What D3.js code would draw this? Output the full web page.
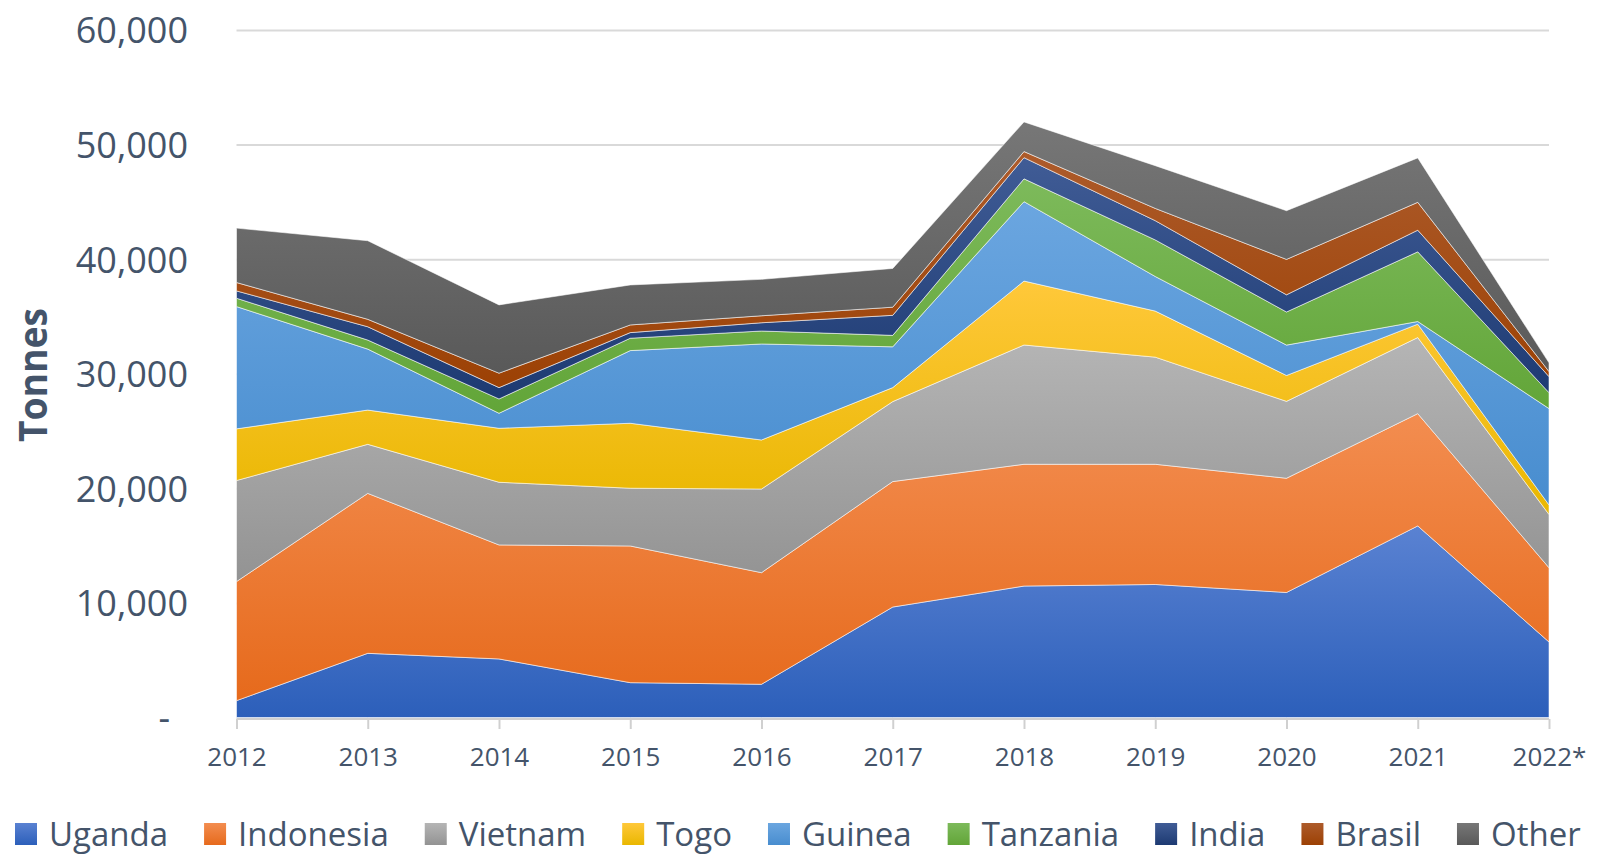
<!DOCTYPE html>
<html lang="en">
<head>
    <meta charset="UTF-8">
    <title>Tonnes by origin</title>
    <script src="https://d3js.org/d3.v7.min.js"></script>
    <style>
        body { margin: 0; background: #fff; }
        text { font-family: "Open Sans", sans-serif; fill: #44546a; }
        .grid line { stroke: #d9d9d9; stroke-width: 2px; }
        .grid .domain { display: none; }
        .area { stroke: rgba(255,255,255,0.55); stroke-width: 1px; }
    </style>
</head>
<body>
<script>

    // Data (tonnes)
    var years = ["2012", "2013", "2014", "2015", "2016", "2017", "2018", "2019", "2020", "2021", "2022*"];
    var uganda    = [1470, 5600, 5110, 3040, 2900, 9640, 11470, 11610, 10910, 16720, 6590];
    var indonesia = [10390, 13960, 9950, 11930, 9740, 10950, 10630, 10490, 9970, 9800, 6480];
    var vietnam   = [8820, 4280, 5470, 5040, 7300, 6980, 10410, 9350, 6710, 6640, 4650];
    var togo      = [4510, 2990, 4710, 5670, 4280, 1220, 5580, 4020, 2260, 1170, 830];
    var guinea    = [10670, 5320, 1310, 6340, 8380, 3560, 6930, 3020, 2650, 230, 8410];
    var tanzania  = [730, 790, 1250, 1080, 1130, 1000, 1990, 3190, 2890, 6080, 1390];
    var india     = [640, 1160, 990, 490, 720, 1750, 1850, 1680, 1500, 1890, 1400];
    var brasil    = [730, 650, 1260, 670, 610, 710, 530, 1070, 3090, 2430, 440];
    var other     = [4750, 6860, 5960, 3490, 3180, 3380, 2590, 3730, 4250, 3880, 760];

    var seriesNames = ["Uganda", "Indonesia", "Vietnam", "Togo", "Guinea", "Tanzania", "India", "Brasil", "Other"];
    var seriesValues = [uganda, indonesia, vietnam, togo, guinea, tanzania, india, brasil, other];
    var yTicks = [0, 10000, 20000, 30000, 40000, 50000, 60000];

    // gradient colours, top -> bottom
    var colors = [
        ["#5a82d2", "#2c5fba"],
        ["#f38d50", "#e66a1c"],
        ["#b5b5b5", "#939393"],
        ["#ffc83a", "#e9b700"],
        ["#6ba6e0", "#488dcf"],
        ["#7dba5b", "#62a538"],
        ["#405c96", "#1d3a72"],
        ["#ad5b2b", "#9c4104"],
        ["#777777", "#595959"]
    ];

    var W = 1600, H = 857;
    var plot = {left: 236.5, right: 1549, top: 30, bottom: 717.5};

    // build table for the stack
    var table = years.map(function(yr, i) {
        var row = {year: yr};
        seriesNames.forEach(function(n, k) { row[n] = seriesValues[k][i]; });
        return row;
    });

    var x = d3.scalePoint().domain(years).range([plot.left, plot.right]);
    var y = d3.scaleLinear().domain([0, 60000]).range([plot.bottom, plot.top]);

    var svg = d3.select("body").append("svg")
        .attr("width", W)
        .attr("height", H);

    // gradients
    var defs = svg.append("defs");
    seriesNames.forEach(function(n, k) {
        var g = defs.append("linearGradient")
            .attr("id", "grad" + k)
            .attr("x1", 0).attr("y1", 0).attr("x2", 0).attr("y2", 1);
        g.append("stop").attr("offset", "0%").attr("stop-color", colors[k][0]);
        g.append("stop").attr("offset", "100%").attr("stop-color", colors[k][1]);
    });

    // gridlines
    svg.append("g")
        .attr("class", "grid")
        .attr("transform", "translate(" + plot.left + ",0)")
        .call(d3.axisLeft(y).tickValues(yTicks.filter(function(d) { return d > 0; }))
            .tickSize(-(plot.right - plot.left)).tickFormat(""));

    // stacked areas
    var stack = d3.stack().keys(seriesNames);
    var layers = stack(table);

    var area = d3.area()
        .x(function(d) { return x(d.data.year); })
        .y0(function(d) { return y(d[0]); })
        .y1(function(d) { return y(d[1]); });

    svg.selectAll(".area")
        .data(layers)
        .enter().append("path")
        .attr("class", "area")
        .attr("fill", function(d, i) { return "url(#grad" + i + ")"; })
        .attr("d", area);

    // x axis
    var xAxis = svg.append("g")
        .attr("transform", "translate(0," + (plot.bottom + 1.5) + ")")
        .call(d3.axisBottom(x).tickSize(10).tickSizeOuter(0));
    xAxis.select(".domain").attr("stroke", "#d0d0d0").attr("stroke-width", 2)
        .attr("d", "M" + plot.left + ",0H" + plot.right);
    xAxis.selectAll(".tick line").attr("stroke", "#d0d0d0").attr("stroke-width", 2);
    xAxis.selectAll(".tick text")
        .attr("y", 47)
        .attr("dy", 0)
        .style("font-size", "26px")
        .attr("fill", "#44546a");

    // y axis labels
    var yAxis = svg.append("g")
        .attr("transform", "translate(188,0)")
        .call(d3.axisLeft(y).tickValues(yTicks).tickSize(0).tickPadding(0)
            .tickFormat(function(d) { return d === 0 ? "-" : d3.format(",")(d); }));
    yAxis.select(".domain").remove();
    yAxis.selectAll(".tick text")
        .style("font-size", "36px")
        .attr("fill", "#44546a")
        .attr("dy", "0.36em")
        .attr("x", function(d) { return d === 0 ? -18 : 0; });

    // y title
    svg.append("text")
        .attr("transform", "translate(47,375) rotate(-90)")
        .attr("text-anchor", "middle")
        .attr("textLength", 134)
        .attr("lengthAdjust", "spacingAndGlyphs")
        .style("font-size", "40px")
        .style("font-weight", "bold")
        .text("Tonnes");

    // legend
    var legend = svg.append("g").attr("transform", "translate(15,846)");
    var lx = 0;
    seriesNames.forEach(function(n, k) {
        var item = legend.append("g").attr("transform", "translate(" + lx + ",0)");
        item.append("rect")
            .attr("x", 0).attr("y", -23)
            .attr("width", 22).attr("height", 22)
            .attr("fill", "url(#grad" + k + ")");
        var t = item.append("text")
            .attr("x", 34)
            .attr("y", 0)
            .style("font-size", "33px")
            .text(n);
        lx += 34 + t.node().getComputedTextLength() + 36;
    });

</script>
</body>
</html>
